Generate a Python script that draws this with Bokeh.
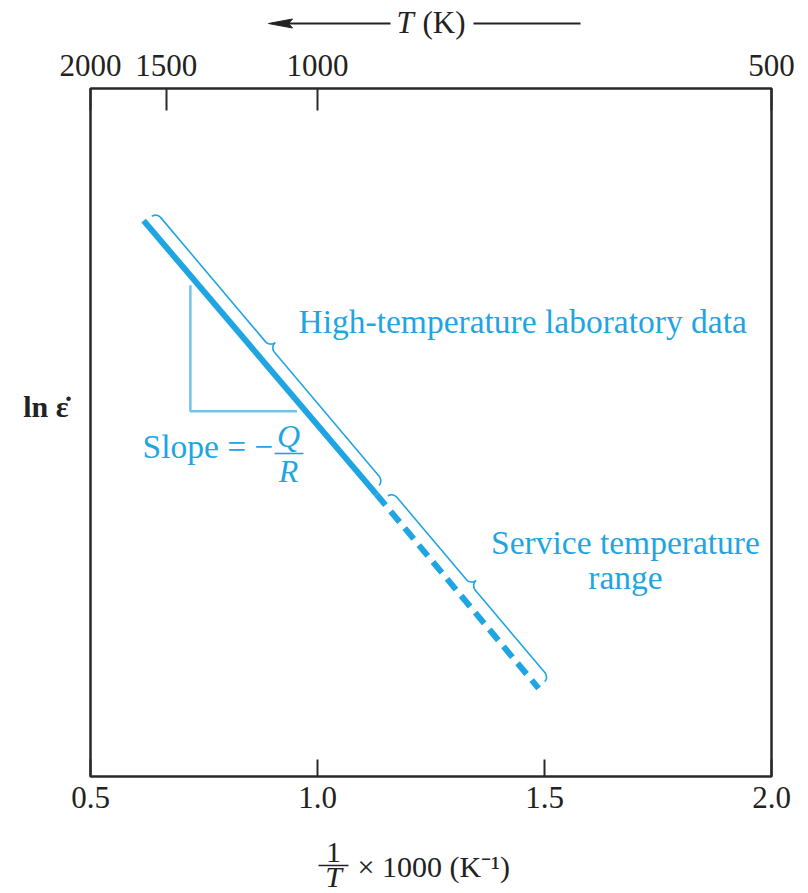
import numpy as np
from bokeh.plotting import figure
from bokeh.layouts import column
from bokeh.models import LinearAxis, FixedTicker, Range1d, Label
from bokeh.core.properties import value
from bokeh.embed import file_html
from bokeh.resources import INLINE

# ---------------- data ----------------
inv_T_solid = [0.617, 1.13]          # 1/T x 1000 (K^-1), laboratory data
ln_rate_solid = [8.08, 4.10]         # ln(strain rate), arbitrary units
inv_T_dashed = [1.13, 1.487]         # extrapolation to service temperatures
ln_rate_dashed = [4.10, 1.28]
slope_tri_x = [0.72, 0.72, 0.955]    # slope triangle corner points
slope_tri_y = [7.14, 5.31, 5.31]
brace_lab_span = [0.62, 1.12]        # x-extent of "laboratory data" brace
brace_srv_span = [1.14, 1.485]       # x-extent of "service range" brace
x_ticks = [0.5, 1.0, 1.5, 2.0]
x_tick_labels = ["0.5", "1.0", "1.5", "2.0"]
temps_K = [2000, 1500, 1000, 500]
temp_labels = ["2000", "1500", "1000", "500"]
y_label_pos = 5.38                   # where the "ln ε̇" label sits
y_label_text = "ln \u03b5\u0307"

# ---------------- layout / style ----------------
X0, X1 = 0.5, 2.0
Y0, Y1 = 0.0, 10.0
FW, FH = 681, 688
BL, BT, BR, BB = 90, 48, 30, 48
HDR_H, FTR_H = 40, 68
BLUE = "#1fa5e2"
LIGHT = "#6fc4ee"
DARK = "#2a2a2a"
INK = "#222222"
SERIF = "Liberation Serif"
BASE_SHIFT = 0.34   # empirical: baseline placement correction, in em

sx = FW / (X1 - X0)
sy = FH / (Y1 - Y0)
FRAME_LEFT = BL
FRAME_TOP = HDR_H + BT
FTR_TOP = HDR_H + BT + FH + BB


def page_to_data(px, py):
    return X0 + (px - FRAME_LEFT) / sx, Y1 - (py - FRAME_TOP) / sy


def to_screen(x, y):
    return (np.asarray(x) - X0) * sx, (Y1 - np.asarray(y)) * sy


def from_screen(X, Y):
    return X0 + np.asarray(X) / sx, Y1 - np.asarray(Y) / sy


def strip(height):
    # same horizontal frame as the main plot; coordinates are page pixels
    f = figure(frame_width=FW, frame_height=height,
               min_border_left=BL, min_border_right=BR, min_border_top=0, min_border_bottom=0,
               x_range=Range1d(BL, BL + FW), y_range=Range1d(height, 0),
               x_axis_location=None, y_axis_location=None,
               output_backend="svg", toolbar_location=None)
    f.grid.visible = False
    f.outline_line_color = None
    return f


# ---------------- main figure ----------------
p = figure(frame_width=FW, frame_height=FH,
           min_border_left=BL, min_border_top=BT, min_border_right=BR, min_border_bottom=BB,
           x_range=Range1d(X0, X1), y_range=Range1d(Y0, Y1),
           output_backend="svg", toolbar_location=None)
p.grid.visible = False
p.outline_line_color = DARK
p.outline_line_width = 2.5

# bottom axis
bx = p.xaxis[0]
bx.ticker = FixedTicker(ticks=x_ticks)
bx.major_label_overrides = {t: l for t, l in zip(x_ticks, x_tick_labels)}
bx.major_tick_in = 17
bx.major_tick_out = 0
bx.minor_tick_line_color = None
bx.axis_line_color = None
bx.major_tick_line_color = DARK
bx.major_tick_line_width = 2
bx.major_label_text_font = SERIF
bx.major_label_text_font_size = "31px"
bx.major_label_text_color = INK
bx.major_label_standoff = 10

# left axis: no ticks, just the quantity label
ly = p.yaxis[0]
ly.ticker = FixedTicker(ticks=[y_label_pos])
ly.major_label_overrides = {y_label_pos: y_label_text}
ly.major_tick_in = 0
ly.major_tick_out = 0
ly.minor_tick_line_color = None
ly.axis_line_color = None
ly.major_label_text_font = SERIF
ly.major_label_text_font_size = "30px"
ly.major_label_text_font_style = "bold"
ly.major_label_text_color = INK
ly.major_label_standoff = 22

# top axis (temperature)
top_ticks = [1000.0 / T for T in temps_K]
tx = LinearAxis(ticker=FixedTicker(ticks=top_ticks),
                major_label_overrides={t: l for t, l in zip(top_ticks, temp_labels)},
                major_tick_in=22, major_tick_out=0, minor_tick_line_color=None,
                axis_line_color=None, major_tick_line_color=DARK, major_tick_line_width=2,
                major_label_text_font=SERIF, major_label_text_font_size="31px",
                major_label_text_color=INK, major_label_standoff=13)
p.add_layout(tx, "above")

# ---------------- data marks ----------------
p.line(inv_T_solid, ln_rate_solid, line_color=BLUE, line_width=6)
p.line(inv_T_dashed, ln_rate_dashed, line_color=BLUE, line_width=6, line_dash="14 8")
p.line(slope_tri_x, slope_tri_y, line_color=LIGHT, line_width=2.5)

# braces, built in screen space parallel to the data line
P0 = np.array(to_screen(inv_T_solid[0], ln_rate_solid[0]), dtype=float)
P1 = np.array(to_screen(inv_T_dashed[-1], ln_rate_dashed[-1]), dtype=float)
u = (P1 - P0) / np.linalg.norm(P1 - P0)
n = np.array([u[1], -u[0]])


def along_of(x):
    X = (x - X0) * sx
    return (X - P0[0]) / u[0]


def brace(x_a, x_b, d_end=9.0, d_track=15.0, d_cusp=22.0, r=7.0, npts=14):
    a0, a1 = along_of(x_a), along_of(x_b)
    mid = 0.5 * (a0 + a1)
    th = np.linspace(0, np.pi / 2, npts)
    A = a0 + r * (1 - np.cos(th))
    OA = d_end + (d_track - d_end) * np.sin(th)
    B = mid - r + r * np.sin(th)
    OB = d_track + (d_cusp - d_track) * (1 - np.cos(th))
    al1 = np.concatenate([A, B])
    of1 = np.concatenate([OA, OB])
    al = np.concatenate([al1, 2 * mid - al1[::-1]])
    of = np.concatenate([of1, of1[::-1]])
    X = P0[0] + al * u[0] + of * n[0]
    Y = P0[1] + al * u[1] + of * n[1]
    return from_screen(X, Y)


for span in (brace_lab_span, brace_srv_span):
    bxs, bys = brace(*span)
    p.line(bxs, bys, line_color=BLUE, line_width=1.6)


# ---------------- in-frame annotations ----------------
def add_label(text, px, py, size=33.5, color=BLUE, style="normal", align="left"):
    x, y = page_to_data(px, py - BASE_SHIFT * size)
    p.add_layout(Label(x=x, y=y, text=text, text_font=SERIF, text_font_size=f"{size}px",
                       text_color=color, text_font_style=style, text_align=align,
                       text_baseline="alphabetic"))


add_label("High-temperature laboratory data", 298, 332)
add_label("Slope = \u2212", 142, 457)
add_label("Q", 288, 446, size=32, style="italic", align="center")
qa = page_to_data(274, 453)
qb = page_to_data(303, 453)
p.line([qa[0], qb[0]], [qa[1], qb[1]], line_color=BLUE, line_width=1.6)
add_label("R", 288, 481, size=32, style="italic", align="center")
add_label("Service temperature", 625, 553, align="center")
add_label("range", 625, 588, align="center")


def strip_text(f, x, y_base, text, size=31, style="normal", align="left"):
    f.text(x=[x], y=[y_base - BASE_SHIFT * size], text=[text], text_font=value(SERIF),
           text_font_size=f"{size}px", text_font_style=style, text_color=INK,
           text_align=align, text_baseline="alphabetic")


# ---------------- header: T (K) with arrow ----------------
hdr = strip(HDR_H)
strip_text(hdr, 396, 33, "T", style="italic")
strip_text(hdr, 422, 33, "(K)")
hdr.segment(x0=[286, 473], y0=[23, 23], x1=[390, 580], y1=[23, 23], line_color=INK, line_width=2)
hdr.patch([268, 292, 288, 292], [23, 18.5, 23, 27.5], fill_color=INK, line_color=INK, line_width=1)

# ---------------- footer: (1/T) x 1000 (K^-1) ----------------
ftr = strip(FTR_H)
strip_text(ftr, 333, 862 - FTR_TOP, "1", size=30, align="center")
ftr.segment(x0=[318], y0=[865 - FTR_TOP], x1=[348], y1=[865 - FTR_TOP], line_color=INK, line_width=1.6)
strip_text(ftr, 333, 886 - FTR_TOP, "T", size=30, style="italic", align="center")
strip_text(ftr, 357, 876 - FTR_TOP, "\u00d7 1000 (K\u207b\u00b9)", size=30)

layout = column(hdr, p, ftr, spacing=0)
open("out.html", "w").write(file_html(layout, INLINE))
